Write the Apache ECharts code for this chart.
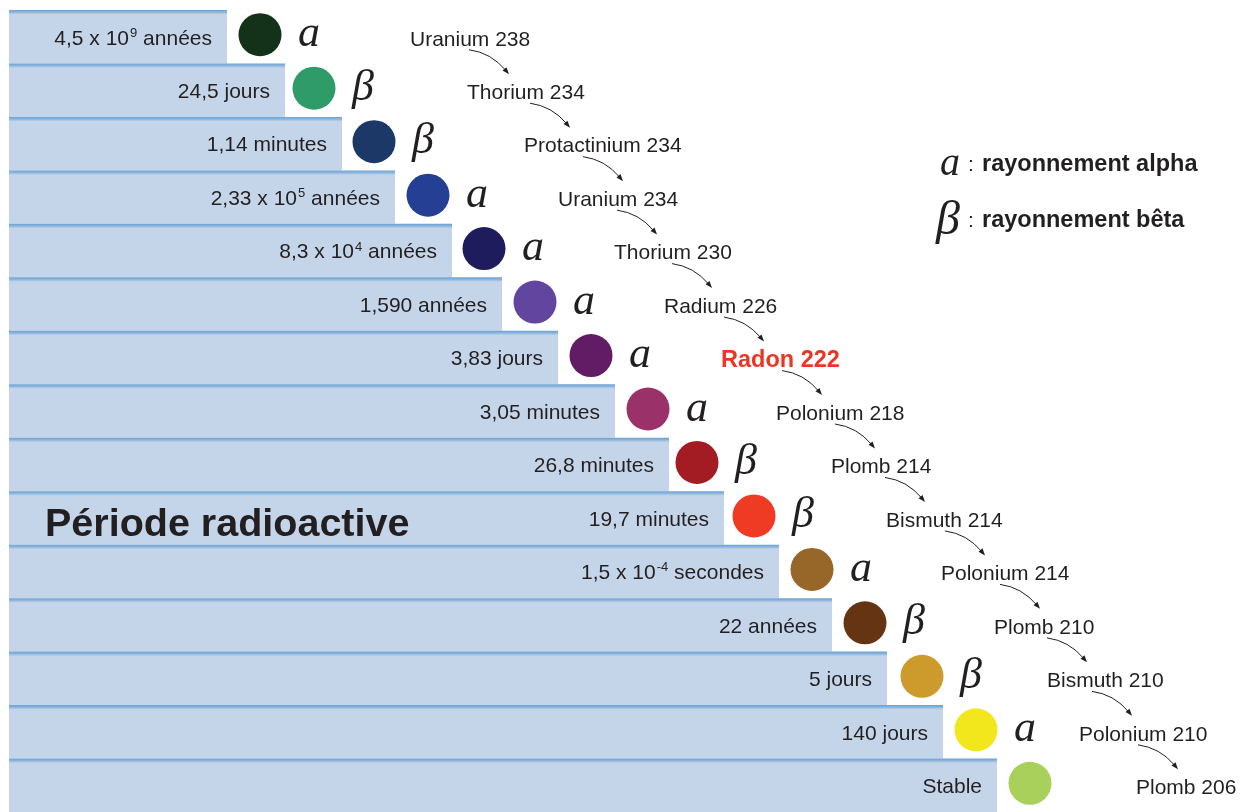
<!DOCTYPE html>
<html>
<head>
<meta charset="utf-8">
<script src="https://cdn.jsdelivr.net/npm/echarts@6/dist/echarts.min.js"></script>
<style>
html,body{margin:0;padding:0;background:#fff;}
#chart{width:1249px;height:812px;}
</style>
</head>
<body>
<div id="chart"></div>
<script>
// ---- data ----
const periods = ['4,5 x 10^9 années','24,5 jours','1,14 minutes','2,33 x 10^5 années','8,3 x 10^4 années','1,590 années','3,83 jours','3,05 minutes','26,8 minutes','19,7 minutes','1,5 x 10^-4 secondes','22 années','5 jours','140 jours','Stable'];
const barLengths = [218,276,333,386,443,493,549,606,660,715,770,823,878,934,988];
const nuclides = ['Uranium 238','Thorium 234','Protactinium 234','Uranium 234','Thorium 230','Radium 226','Radon 222','Polonium 218','Plomb 214','Bismuth 214','Polonium 214','Plomb 210','Bismuth 210','Polonium 210','Plomb 206'];
const radiation = ['a','β','β','a','a','a','a','a','β','β','a','β','β','a',''];
const dotColors = ['#143219','#2e9b69','#1b3866','#243f94','#1f1c5d','#62459f','#621c66','#9a3168','#a31b23','#ef3b24','#976629','#643413','#cd9a2c','#f2e71c','#a8d05b'];
const highlight = 'Radon 222';

// ---- layout (x in axis units, 1 unit = 1 px from the left bar edge) ----
const circleX = [251,305,365,419,475,526,582,639,688,745,803,856,913,967,1021];
const nameX   = [401,458,515,549,605,655,712,767,822,877,932,985,1038,1070,1127];
const arrowX  = [460,521,574,608,663,715,773,826,876,936,991,1038,1083,1129];

const TXT = '#231f20';
const SANS = 'Liberation Sans';
const SERIF = 'Liberation Serif';

function toRich(s){
  return s.replace(/\^(-?\d+)/, '{sup|$1}');
}

const chart = echarts.init(document.getElementById('chart'), null, {renderer:'canvas'});

const option = {
  backgroundColor:'#ffffff',
  animation:false,
  grid:{left:9, right:0, top:10, height:805.5, containLabel:false},
  xAxis:{type:'value', min:0, max:1240, show:false},
  yAxis:{type:'category', inverse:true, data:nuclides, show:false},
  series:[
    {
      type:'bar',
      data:barLengths,
      barWidth:'100%',
      barCategoryGap:0,
      silent:true,
      itemStyle:{
        color:new echarts.graphic.LinearGradient(0,0,0,1,[
          {offset:0, color:'#6ba2d3'},
          {offset:0.035, color:'#86b1dc'},
          {offset:0.085, color:'#c4d5e9'},
          {offset:1, color:'#c4d5e9'}
        ])
      },
      label:{
        show:true,
        position:'insideRight',
        distance:15,
        offset:[0,2],
        color:TXT,
        fontSize:21,
        fontFamily:SANS,
        lineHeight:24,
        formatter:(p)=>toRich(periods[p.dataIndex]),
        rich:{
          sup:{fontSize:13, fontFamily:SANS, color:TXT, verticalAlign:'top', lineHeight:18, padding:[0,0,0,1]}
        }
      }
    },
    {
      type:'custom',
      silent:true,
      z:5,
      data:nuclides.map((_,i)=>[circleX[i], i]),
      encode:{x:0, y:1},
      renderItem:function(params, api){
        const i = params.dataIndex;
        const c = api.coord([circleX[i], i]);
        const children = [];
        children.push({type:'circle', shape:{cx:c[0], cy:c[1]-2, r:21.5}, style:{fill:dotColors[i]}});
        if (radiation[i]) {
          children.push({type:'text', style:{text:radiation[i], x:c[0]+49, y:c[1]-2, align:'center', verticalAlign:'middle',
            fontFamily:SERIF, fontStyle:'italic', fontSize:44, fill:TXT}});
        }
        const n = api.coord([nameX[i], i]);
        const hl = nuclides[i] === highlight;
        children.push({type:'text', style:{text:nuclides[i], x:n[0], y:n[1]+3, align:'left', verticalAlign:'middle',
          fontFamily:SANS, fontSize:hl?23.5:21, fontWeight:hl?'bold':'normal', fill:hl?'#ee3524':TXT}});
        if (i < nuclides.length-1) {
          const p0 = api.coord([arrowX[i], i]); p0[1] += 13;
          const p2 = api.coord([arrowX[i]+40, i+1]); p2[1] -= 16;
          const dx = p2[0]-p0[0], dy = p2[1]-p0[1];
          const cp = [p0[0]+0.55*dx, p0[1]+0.12*dy];
          let tx = p2[0]-cp[0], ty = p2[1]-cp[1];
          const L = Math.sqrt(tx*tx+ty*ty); tx/=L; ty/=L;
          const nx = -ty, ny = tx;
          const al = 7, aw = 2.6;
          const b = [p2[0]-tx*al, p2[1]-ty*al];
          children.push({type:'bezierCurve', shape:{x1:p0[0], y1:p0[1], x2:b[0]+tx*2, y2:b[1]+ty*2, cpx1:cp[0], cpy1:cp[1]},
            style:{stroke:TXT, lineWidth:1, fill:null}});
          children.push({type:'polygon', shape:{points:[[p2[0],p2[1]],[b[0]+nx*aw,b[1]+ny*aw],[b[0]-nx*aw,b[1]-ny*aw]]},
            style:{fill:TXT}});
        }
        return {type:'group', children};
      }
    }
  ],
  graphic:[
    {type:'text', z:100, x:45, y:525, style:{text:'Période radioactive', fontFamily:SANS, fontSize:39.5, fontWeight:'bold', fill:TXT, verticalAlign:'middle', align:'left'}},
    {type:'text', z:100, x:950, y:164, style:{text:'a', fontFamily:SERIF, fontStyle:'italic', fontSize:40, fill:TXT, verticalAlign:'middle', align:'center'}},
    {type:'text', z:100, x:968, y:165, style:{text:':', fontFamily:SANS, fontSize:21, fill:TXT, verticalAlign:'middle', align:'left'}},
    {type:'text', z:100, x:982, y:165, style:{text:'rayonnement alpha', fontFamily:SANS, fontSize:23.5, fontWeight:'bold', fill:TXT, verticalAlign:'middle', align:'left'}},
    {type:'text', z:100, x:948, y:221, style:{text:'β', fontFamily:SERIF, fontStyle:'italic', fontSize:48, fill:TXT, verticalAlign:'middle', align:'center'}},
    {type:'text', z:100, x:968, y:221, style:{text:':', fontFamily:SANS, fontSize:21, fill:TXT, verticalAlign:'middle', align:'left'}},
    {type:'text', z:100, x:982, y:221, style:{text:'rayonnement bêta', fontFamily:SANS, fontSize:23.5, fontWeight:'bold', fill:TXT, verticalAlign:'middle', align:'left'}}
  ]
};
chart.setOption(option);
</script>
</body>
</html>
